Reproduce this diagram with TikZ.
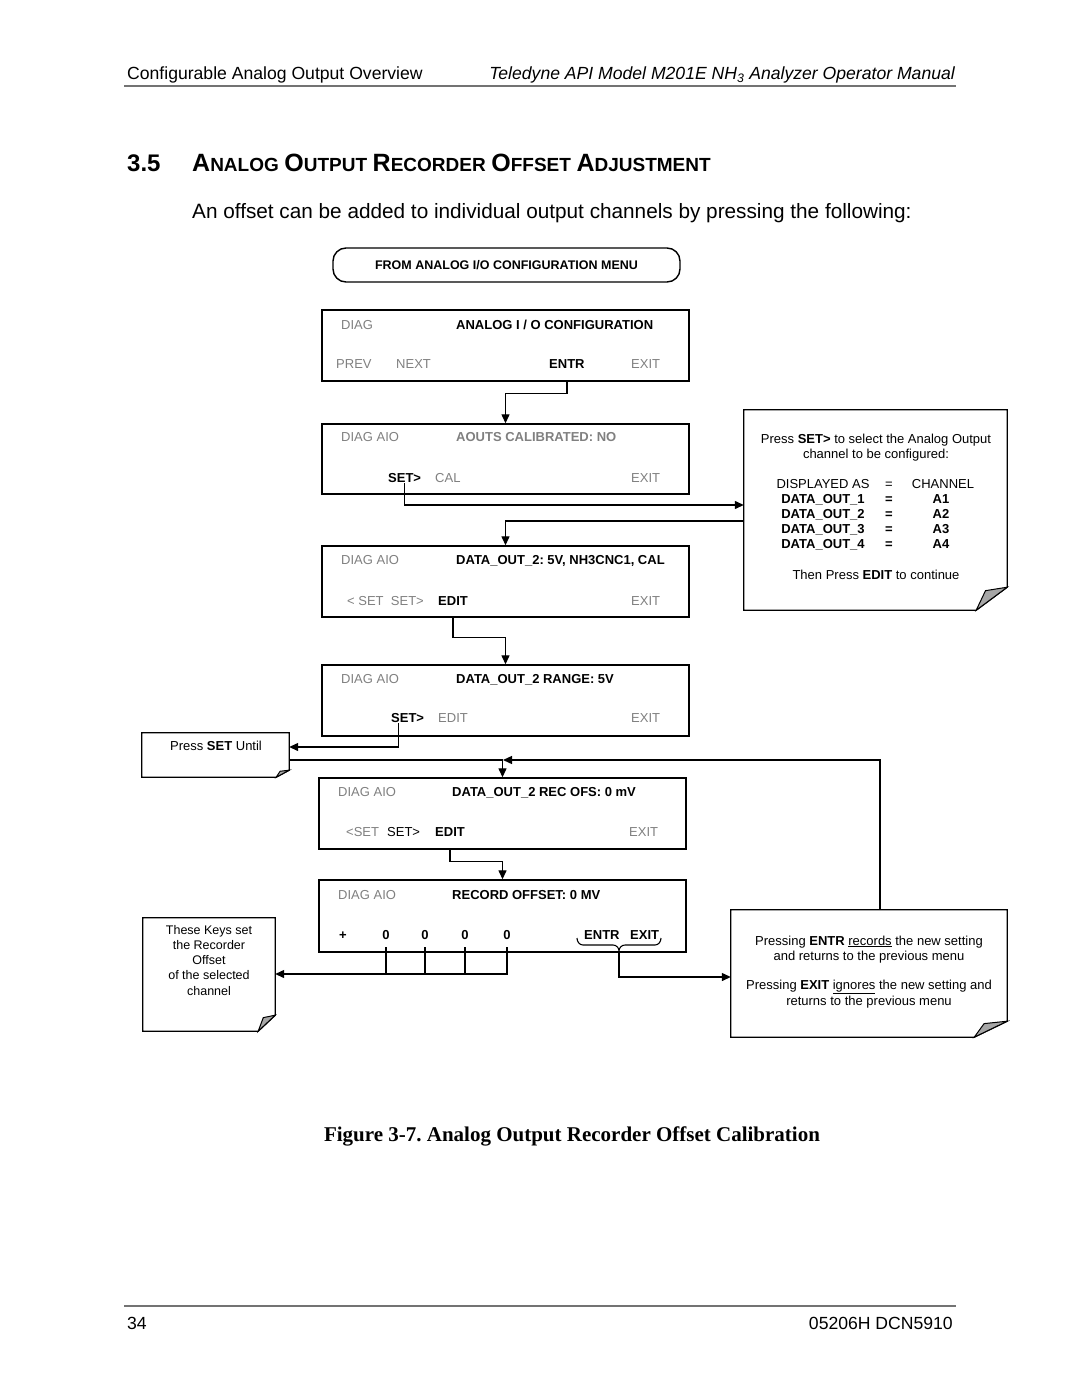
\documentclass[tikz,border=0pt]{standalone}
\usepackage{fontspec}
\setmainfont{Liberation Sans}
\newfontfamily\capserif{Liberation Serif}
\usetikzlibrary{arrows.meta,calc}
\frenchspacing
\newcommand\myscr{\fontsize{13}{14}\selectfont}
\newcommand\mynote{\fontsize{13}{15}\selectfont}
\newcommand\myhdr{\fontsize{17.6}{20}\selectfont}
\newcommand\SCw[2]{{\fontsize{25}{25}\selectfont #1}{\fontsize{19}{19}\selectfont #2}}
\newcommand\drawfold[3]{%
  \draw[line width=1.3pt] (#1.north west) -- (#1.north east) -- ($(#1.south east)+(0,-#3)$) -- ($(#1.south east)+(-#2,0)$) -- (#1.south west) -- cycle;
  \filldraw[line width=1pt, fill=black!35] ($(#1.south east)+(-#2,0)$) -- ($(#1.south east)+(-0.7*#2,-0.85*#3)$) -- ($(#1.south east)+(0,-#3)$) -- cycle;}
\begin{document}
\begin{tikzpicture}[x=1pt,y=-1pt,
  scr/.style={draw, line width=1.4pt, minimum width=367pt, minimum height=71pt, inner sep=0pt},
  gk/.style={font=\myscr, text=black!50, inner sep=1pt, anchor=base west},
  bk/.style={font=\myscr\bfseries, text=black, inner sep=1pt, anchor=base west},
  ln/.style={line width=1.3pt},
  arr/.style={line width=1.3pt, -{Triangle[length=9pt,width=8pt]}},
  nt/.style={font=\mynote, inner sep=0pt, anchor=base},
  notebox/.style={inner sep=0pt, draw=none}]
\useasboundingbox (0,0) rectangle (1080,1397);
\fill[white] (0,0) rectangle (1080,1397);

% header
\node[anchor=base west, font=\myhdr, inner sep=0pt] (h1) at (127,80) {Configurable Analog Output Overview};
\node[anchor=base east, font=\myhdr\itshape, inner sep=0pt] (h2) at (955,80) {Teledyne API Model M201E NH\textsubscript{3} Analyzer Operator Manual};
\draw[line width=1.5pt, black!55] (124,86) -- (956,86);

% section heading
\node[anchor=base west, inner sep=0pt, font=\bfseries\fontsize{24}{24}\selectfont] (sn) at (127,171) {3.5};
\node[anchor=base west, inner sep=0pt, font=\bfseries\fontsize{20}{24}\selectfont] (st) at (192,171) {\SCw{A}{NALOG} \SCw{O}{UTPUT} \SCw{R}{ECORDER} \SCw{O}{FFSET} \SCw{A}{DJUSTMENT}};
\node[anchor=base west, inner sep=0pt, font=\fontsize{20.75}{24}\selectfont] (body) at (192,218) {An offset can be added to individual output channels by pressing the following:};

% top rounded box
\node[draw, line width=1.4pt, rounded corners=13pt, minimum width=347pt, minimum height=34pt, inner sep=0pt, font=\fontsize{12.5}{14}\selectfont\bfseries] (from) at (506.5,265) {FROM ANALOG I/O CONFIGURATION MENU};

% screens
\node[scr] (s1) at (505.5,345.5) {};
\node[gk] (s1a) at (340,329) {DIAG};
\node[bk] (s1b) at (455,329) {ANALOG I / O CONFIGURATION};
\node[gk] (s1c) at (335,368) {PREV};
\node[gk] (s1d) at (395,368) {NEXT};
\node[bk] (s1entr) at (548,368) {ENTR};
\node[gk] (s1f) at (630,368) {EXIT};

\node[scr, minimum height=70pt] (s2) at (505.5,459) {};
\node[gk] (s2a) at (340,441) {DIAG AIO};
\node[gk, font=\myscr\bfseries] (s2b) at (455,441) {AOUTS CALIBRATED: NO};
\node[bk] (s2set) at (387,482) {SET>};
\node[gk] (s2c) at (434,482) {CAL};
\node[gk] (s2d) at (630,482) {EXIT};

\node[scr] (s3) at (505.5,581.5) {};
\node[gk] (s3a) at (340,564) {DIAG AIO};
\node[bk] (s3b) at (455,564) {DATA\_OUT\_2: 5V, NH3CNC1, CAL};
\node[gk] (s3c) at (346,605) {< SET\ \ SET>};
\node[bk] (s3edit) at (437,605) {EDIT};
\node[gk] (s3d) at (630,605) {EXIT};

\node[scr] (s4) at (505.5,700.5) {};
\node[gk] (s4a) at (340,683) {DIAG AIO};
\node[bk] (s4b) at (455,683) {DATA\_OUT\_2 RANGE: 5V};
\node[bk] (s4set) at (390,722) {SET>};
\node[gk] (s4c) at (437,722) {EDIT};
\node[gk] (s4d) at (630,722) {EXIT};

\node[scr] (s5) at (502.5,813.5) {};
\node[gk] (s5a) at (337,796) {DIAG AIO};
\node[bk] (s5b) at (451,796) {DATA\_OUT\_2 REC OFS: 0 mV};
\node[gk] (s5c) at (345,836) {<SET};
\node[gk, text=black] (s5d) at (386,836) {SET>};
\node[bk] (s5edit) at (434,836) {EDIT};
\node[gk] (s5f) at (628,836) {EXIT};

\node[scr, minimum height=72pt] (s6) at (502.5,916) {};
\node[gk] (s6a) at (337,899) {DIAG AIO};
\node[bk] (s6b) at (451,899) {RECORD OFFSET: 0 MV};
\node[bk, anchor=base] (s6p) at (343,939) {+};
\node[bk, anchor=base] (d1) at (386,939) {0};
\node[bk, anchor=base] (d2) at (425,939) {0};
\node[bk, anchor=base] (d3) at (465,939) {0};
\node[bk, anchor=base] (d4) at (507,939) {0};
\node[bk] (s6entr) at (583,939) {ENTR};
\node[bk] (s6exit) at (629,939) {EXIT};

% notes
\node[notebox, minimum width=263pt, minimum height=200pt] (n1) at (875.5,510) {};
\drawfold{n1}{31}{23}
\node[nt] (n1t1) at (876,443) {Press \textbf{SET>} to select the Analog Output};
\node[nt] (n1t2) at (876,458) {channel to be configured:};
\node[nt] (n1c1) at (823,488) {DISPLAYED AS};
\node[nt] (n1c2) at (889,488) {=};
\node[nt] (n1c3) at (943,488) {CHANNEL};
\foreach \i/\yy in {1/503,2/518,3/533,4/548}{
  \node[nt, font=\mynote\bfseries] (n1r\i a) at (823,\yy) {DATA\_OUT\_\i};
  \node[nt, font=\mynote\bfseries] (n1r\i b) at (889,\yy) {=};
  \node[nt, font=\mynote\bfseries] (n1r\i c) at (941,\yy) {A\i};
}
\node[nt] (n1t3) at (876,579) {Then Press \textbf{EDIT} to continue};

\node[notebox, minimum width=147pt, minimum height=44pt] (n2) at (215.5,755) {};
\drawfold{n2}{13}{7}
\node[nt] (n2t) at (216,750) {Press \textbf{SET} Until};

\node[notebox, minimum width=132pt, minimum height=113pt] (n3) at (209,974.5) {};
\drawfold{n3}{17}{16}
\node[nt, align=center, font=\fontsize{12.5}{15.2}\selectfont, anchor=north] (n3t) at (209,925) {These Keys set\\the Recorder\\Offset\\of the selected\\channel};

\node[notebox, minimum width=276pt, minimum height=127pt] (n4) at (869,973.5) {};
\drawfold{n4}{33}{16}
\node[nt] (n4t1) at (869,945) {Pressing \textbf{ENTR} \underline{records} the new setting};
\node[nt] (n4t2) at (869,960) {and returns to the previous menu};
\node[nt] (n4t3) at (869,989) {Pressing \textbf{EXIT} \underline{ignores} the new setting and};
\node[nt] (n4t4) at (869,1005) {returns to the previous menu};

% helper coordinates
\coordinate (y505) at (0,505);
\coordinate (y521) at (0,521);
\coordinate (y747) at (0,747);
\coordinate (jm) at (503,760);
\coordinate (dtop) at (0,947);
\coordinate (jd) at (0,974);
\coordinate (je) at (0,977);
\coordinate (bc) at (619,951);

% connectors
\draw[arr] (s1entr.south |- s1.south) -- ++(0,12) -| (s2.north);
\draw[arr] (s2set.south) |- (n1.west |- y505);
\draw[arr] (n1.west |- y521) -| (s3.north);
\draw[arr] (s3edit.south |- s3.south) -- ++(0,20) -| (s4.north);
\draw[arr] ([xshift=-9pt]s4set.south) |- (n2.east |- y747);
\draw[arr] (n2.east |- jm) -| (s5.north);
\draw[arr] ([xshift=11pt]n4.north) |- (jm);
\draw[arr] (s5edit.south |- s5.south) -- ++(0,12) -| (s6.north);
\foreach \d in {d1,d2,d3}{\draw[ln] (\d |- dtop) -- (\d |- jd);}
\draw[arr] (d4 |- dtop) |- (n3.east |- jd);
% brace under ENTR EXIT
\draw[line width=1.1pt] (577,938) to[out=-90,in=180] (583,945) -- (613,945) to[out=0,in=90] (bc) to[out=90,in=180] (625,945) -- (655,945) to[out=0,in=-90] (661,938);
\draw[arr] (bc) |- (n4.west |- je);

% caption and footer
\node[anchor=base, inner sep=0pt, font=\capserif\bfseries\fontsize{21}{24}\selectfont] (cap) at (572,1141) {Figure 3-7. Analog Output Recorder Offset Calibration};
\draw[line width=1.5pt, black!55] (124,1306) -- (956,1306);
\node[anchor=base west, font=\myhdr, inner sep=0pt] (pg) at (127,1329) {34};
\node[anchor=base east, font=\myhdr, inner sep=0pt] (doc) at (953,1329) {05206H DCN5910};
\end{tikzpicture}
\end{document}
